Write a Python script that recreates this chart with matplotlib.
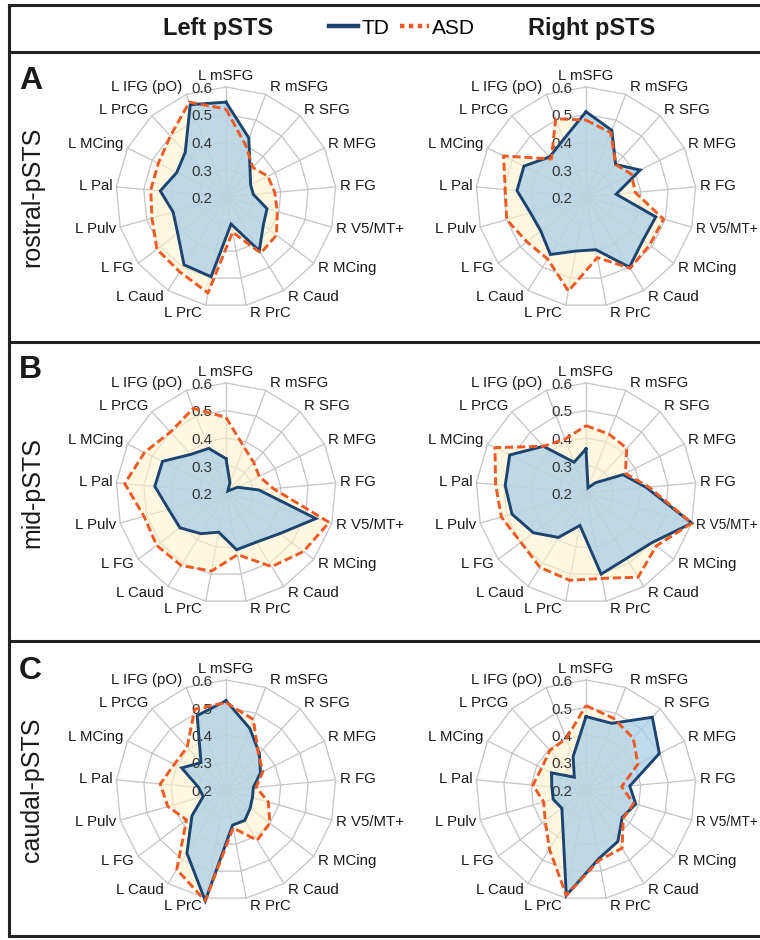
import numpy as np
import matplotlib
matplotlib.use('Agg')
import matplotlib.pyplot as plt
from matplotlib.lines import Line2D

plt.rcParams['font.family'] = ['Liberation Sans', 'DejaVu Sans']

# ---------------- data ----------------
categories = ["L mSFG", "R mSFG", "R SFG", "R MFG", "R FG", "R V5/MT+", "R MCing",
              "R Caud", "R PrC", "L PrC", "L Caud", "L FG", "L Pulv", "L Pal",
              "L MCing", "L PrCG", "L IFG (pO)"]
radial_ticks = [0.2, 0.3, 0.4, 0.5, 0.6]
radial_labels = ["0.2", "0.3", "0.4", "0.5", "0.6"]
row_titles = ["rostral-pSTS", "mid-pSTS", "caudal-pSTS"]
panel_letters = ["A", "B", "C"]
col_titles = ["Left pSTS", "Right pSTS"]
series_names = ["TD", "ASD"]

A_left_TD = [0.545, 0.43, 0.33, 0.30, 0.30, 0.355, 0.37, 0.43, 0.30, 0.495, 0.49, 0.42, 0.40, 0.44, 0.40, 0.42, 0.56]
A_left_ASD = [0.52, 0.40, 0.345, 0.37, 0.378, 0.394, 0.43, 0.44, 0.33, 0.555, 0.52, 0.515, 0.48, 0.475, 0.475, 0.50, 0.57]
A_right_TD = [0.51, 0.46, 0.36, 0.42, 0.31, 0.464, 0.46, 0.50, 0.395, 0.40, 0.446, 0.406, 0.41, 0.452, 0.452, 0.397, 0.425]
A_right_ASD = [0.48, 0.45, 0.36, 0.385, 0.38, 0.493, 0.49, 0.505, 0.424, 0.548, 0.465, 0.47, 0.50, 0.495, 0.535, 0.387, 0.505]

B_left_TD = [0.325, 0.24, 0.21, 0.247, 0.32, 0.54, 0.445, 0.41, 0.41, 0.345, 0.374, 0.41, 0.417, 0.46, 0.458, 0.39, 0.374]
B_left_ASD = [0.475, 0.38, 0.35, 0.335, 0.373, 0.59, 0.553, 0.515, 0.428, 0.489, 0.51, 0.516, 0.51, 0.57, 0.531, 0.50, 0.53]
B_right_TD = [0.36, 0.22, 0.25, 0.35, 0.42, 0.60, 0.50, 0.48, 0.50, 0.32, 0.39, 0.44, 0.48, 0.495, 0.51, 0.43, 0.32]
B_right_ASD = [0.445, 0.43, 0.42, 0.36, 0.43, 0.60, 0.52, 0.56, 0.516, 0.523, 0.518, 0.497, 0.52, 0.53, 0.57, 0.43, 0.41]

C_left_TD = [0.525, 0.44, 0.38, 0.34, 0.30, 0.30, 0.31, 0.33, 0.33, 0.61, 0.47, 0.355, 0.286, 0.30, 0.38, 0.335, 0.49]
C_left_ASD = [0.518, 0.475, 0.375, 0.35, 0.31, 0.36, 0.40, 0.415, 0.34, 0.61, 0.54, 0.38, 0.42, 0.44, 0.41, 0.41, 0.515]
C_right_TD = [0.467, 0.46, 0.558, 0.498, 0.36, 0.388, 0.365, 0.42, 0.454, 0.59, 0.36, 0.31, 0.324, 0.325, 0.34, 0.263, 0.33]
C_right_ASD = [0.507, 0.479, 0.455, 0.411, 0.33, 0.38, 0.37, 0.449, 0.46, 0.59, 0.453, 0.386, 0.36, 0.394, 0.38, 0.395, 0.40]

panels = [[(A_left_TD, A_left_ASD), (A_right_TD, A_right_ASD)],
          [(B_left_TD, B_left_ASD), (B_right_TD, B_right_ASD)],
          [(C_left_TD, C_left_ASD), (C_right_TD, C_right_ASD)]]

# ---------------- style ----------------
W, H = 760, 940
R = 110
centers_x = [226, 586]
centers_y = [197, 493, 790]
grid_col = "#c6c6c6"
td_line = "#1c4470"
td_fill = "#a8cfe7"
asd_line = "#ec5a26"
asd_fill = "#fff3cc"
text_col = "#1a1a1a"
lab_fs = 10.8

fig = plt.figure(figsize=(W / 100, H / 100), dpi=100)
cat_texts = []


def add_radar(cx, cy, td, asd):
    ax = fig.add_axes([(cx - R) / W, (H - cy - R) / H, 2 * R / W, 2 * R / H],
                      projection="polar")
    ax.set_theta_offset(np.pi / 2)
    ax.set_theta_direction(-1)
    ax.set_ylim(radial_ticks[0], radial_ticks[-1])
    ax.grid(False)
    ax.set_xticks([])
    ax.set_yticks([])
    ax.spines["polar"].set_visible(False)
    ax.patch.set_alpha(0)
    n = len(categories)
    th = np.linspace(0, 2 * np.pi, n, endpoint=False)
    thc = np.append(th, th[0])
    for r in radial_ticks[1:]:
        ax.plot(thc, [r] * (n + 1), color=grid_col, lw=0.95, zorder=1, clip_on=False)
    for t in th:
        ax.plot([t, t], [radial_ticks[0], radial_ticks[-1]], color=grid_col, lw=0.95,
                zorder=1, clip_on=False)
    # radial labels
    for r, lab in zip(radial_ticks, radial_labels):
        ax.annotate(lab, xy=(0, r), xytext=(-14, -2), textcoords="offset pixels",
                    ha="right", va="center", fontsize=lab_fs, color="#333333",
                    zorder=4.5, annotation_clip=False)
    # category labels
    for t, lab in zip(th, categories):
        s, c = np.sin(t), np.cos(t)
        if abs(s) < 0.1:
            ha, va, dx, dy = "center", "bottom", 0, 4
        else:
            ha = "left" if s > 0 else "right"
            va = "center"
            dx = 4 if s > 0 else -4
            dy = 8 * c
        tx = ax.annotate(lab, xy=(t, radial_ticks[-1]), xytext=(dx, dy),
                         textcoords="offset pixels", ha=ha, va=va, fontsize=lab_fs,
                         color=text_col, annotation_clip=False)
        cat_texts.append(tx)
    tdc = np.append(td, td[0])
    asdc = np.append(asd, asd[0])
    ax.fill(thc, asdc, color=asd_fill, alpha=0.6, zorder=3, lw=0, clip_on=False)
    ax.fill(thc, tdc, color=td_fill, alpha=0.75, zorder=4, lw=0, clip_on=False)
    ax.plot(thc, tdc, color=td_line, lw=2.1, zorder=5, clip_on=False,
            solid_joinstyle="miter")
    ax.plot(thc, asdc, color=asd_line, lw=2.1, ls=(0, (2.8, 1.3)), zorder=6,
            clip_on=False)
    return ax


for i in range(3):
    for j in range(2):
        td, asd = panels[i][j]
        add_radar(centers_x[j], centers_y[i], td, asd)

# ---------------- frame ----------------
def fx(x):
    return x / W


def fy(y):
    return 1 - y / H


frame_kw = dict(color="#222222", lw=2.2, transform=fig.transFigure, clip_on=False)
left, right, top, bottom = 9, 800, 5, 936
fig.add_artist(Line2D([fx(left), fx(left)], [fy(top), fy(bottom)], **frame_kw))
for yy in [top, 52, 342, 641, bottom]:
    fig.add_artist(Line2D([fx(left), fx(right)], [fy(yy), fy(yy)], **frame_kw))

# header
fig.text(fx(218), fy(28), col_titles[0], ha="center", va="center", fontsize=17,
         fontweight="bold", color=text_col)
fig.text(fx(592), fy(28), col_titles[1], ha="center", va="center", fontsize=17,
         fontweight="bold", color=text_col)
handles = [Line2D([], [], color=td_line, lw=3.2),
           Line2D([], [], color=asd_line, lw=3.2, ls=(0, (1, 1)))]
fig.legend(handles, series_names, loc="center", bbox_to_anchor=(fx(402), fy(28)),
           ncol=2, frameon=False, handlelength=1.4, handletextpad=0.15,
           columnspacing=0.5, fontsize=15, borderpad=0)

# row titles and panel letters
for i in range(3):
    fig.text(fx(32), fy(centers_y[i]), row_titles[i], rotation=90, ha="center",
             va="center", fontsize=18, color=text_col)
letter_y = [81, 370, 671]
for i in range(3):
    fig.text(fx(19), fy(letter_y[i]), panel_letters[i], ha="left", va="center",
             fontsize=23, fontweight="bold", color=text_col)

# shrink any category label that would run past the right edge
fig.canvas.draw()
renderer = fig.canvas.get_renderer()
for tx in cat_texts:
    fs = tx.get_fontsize()
    while tx.get_window_extent(renderer).x1 > W - 2 and fs > 7:
        fs -= 0.2
        tx.set_fontsize(fs)

fig.savefig("out.png", dpi=100, facecolor="white")
